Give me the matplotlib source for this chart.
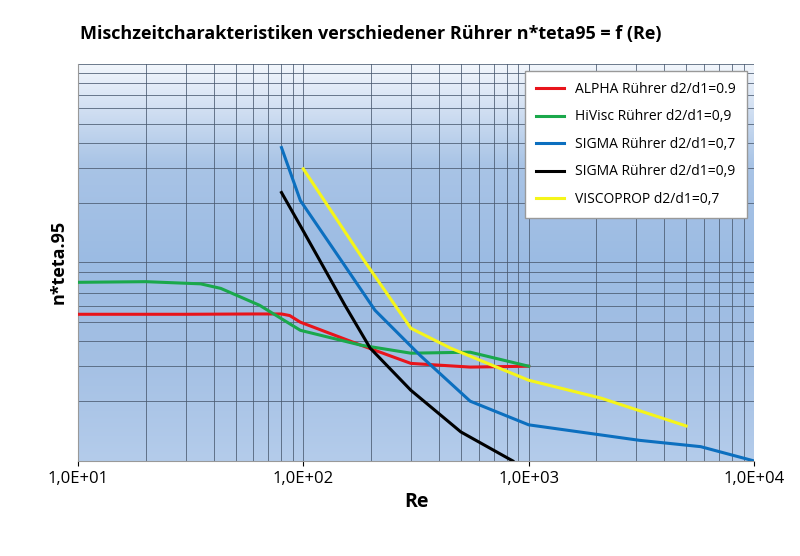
import matplotlib
matplotlib.use("Agg")
import matplotlib.pyplot as plt
import numpy as np
from matplotlib.ticker import FixedLocator, NullFormatter
from matplotlib.colors import LinearSegmentedColormap

plt.rcParams['font.family'] = ['Open Sans', 'DejaVu Sans']

alpha_re = [10, 30, 60, 80, 87, 97, 180, 300, 550, 1000]
alpha_y = [5.48, 5.48, 5.5, 5.5, 5.4, 5.0, 3.83, 3.1, 2.97, 3.0]
hivisc_re = [10, 20, 35, 43, 64, 97, 180, 300, 550, 1000]
hivisc_y = [7.94, 8.0, 7.8, 7.4, 6.08, 4.55, 3.83, 3.49, 3.53, 3.0]
sigma7_re = [80, 97, 153, 208, 330, 550, 1000, 3100, 5800, 10000]
sigma7_y = [37.9, 20.5, 9.6, 5.74, 3.4, 2.0, 1.52, 1.27, 1.18, 1.0]
sigma9_re = [80, 97, 153, 198, 300, 500, 850]
sigma9_y = [22.5, 15.3, 6.08, 3.7, 2.27, 1.4, 1.0]
visco_re = [100, 180, 300, 450, 1000, 2100, 5000]
visco_y = [29.6, 10.8, 4.66, 3.7, 2.55, 2.07, 1.5]

fig = plt.figure(figsize=(8, 5.56), dpi=100)
ax = fig.add_axes([0.0975, 0.171, 0.845, 0.714])
ax.set_xscale('log')
ax.set_yscale('log')
ax.set_xlim(10, 10000)
ax.set_ylim(1, 100)

# top light, middle darker, bottom medium
cmap = LinearSegmentedColormap.from_list('bg', ['#f2f6fc', '#a9c4e6', '#9bbbe3', '#a4c0e4', '#b4cceb'])
grad = np.linspace(0, 1, 256).reshape(-1, 1)
ax.imshow(grad, cmap=cmap, aspect='auto', extent=[0, 1, 0, 1], origin='upper',
          transform=ax.transAxes, zorder=0)

ax.grid(True, which='both', color='#4a5a70', linewidth=0.7, alpha=0.8)
ax.set_axisbelow(True)
ax.yaxis.set_major_formatter(NullFormatter())
ax.yaxis.set_minor_formatter(NullFormatter())
ax.tick_params(axis='y', length=0, which='both')
ax.tick_params(axis='x', which='minor', length=0)
ax.xaxis.set_major_locator(FixedLocator([10, 100, 1000, 10000]))
ax.set_xticklabels(['1,0E+01', '1,0E+02', '1,0E+03', '1,0E+04'], fontsize=12)
for s in ['top', 'right']:
    ax.spines[s].set_visible(False)
ax.spines['left'].set_color('#999999')
ax.spines['bottom'].set_color('#999999')

ax.plot(alpha_re, alpha_y, color='#e8141b', lw=2.2, label='ALPHA Rührer d2/d1=0.9', zorder=3)
ax.plot(hivisc_re, hivisc_y, color='#1aa84b', lw=2.2, label='HiVisc Rührer d2/d1=0,9', zorder=3)
ax.plot(sigma7_re, sigma7_y, color='#0c6fbf', lw=2.2, label='SIGMA Rührer d2/d1=0,7', zorder=3)
ax.plot(sigma9_re, sigma9_y, color='black', lw=2.2, label='SIGMA Rührer d2/d1=0,9', zorder=3)
ax.plot(visco_re, visco_y, color='#f5f51a', lw=2.2, label='VISCOPROP d2/d1=0,7', zorder=3)

leg = ax.legend(loc='upper right', fontsize=10, frameon=True, fancybox=False,
                borderpad=0.8, labelspacing=0.9, handlelength=2.0)
leg.get_frame().set_facecolor('white')
leg.get_frame().set_edgecolor('#999999')
leg.get_frame().set_alpha(1)

ax.set_xlabel('Re', fontsize=14, fontweight='bold')
ax.set_ylabel('n*teta.95', fontsize=13, fontweight='bold')
fig.text(0.1, 0.93, 'Mischzeitcharakteristiken verschiedener Rührer n*teta95 = f (Re)',
         fontsize=13, fontweight='bold')

fig.savefig('out.png', dpi=100)
